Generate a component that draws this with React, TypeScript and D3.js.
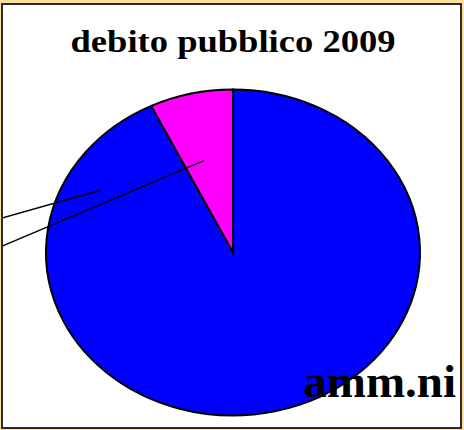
import { useEffect, useRef } from 'react';
import * as d3 from 'd3';

const categories = ["altro", "debito pubblico"];
const values = [92.8, 7.2];
const colors = ["#0000FF", "#FF00FF"];
// where each leader line leaves its slice (degrees clockwise from top, fraction of radius)
const leaderAngles = [298, 344.6];
const leaderRadii = [0.81, 0.585];
// where the (clipped) labels sit, left of the frame
const labelX = [-40, -40];
const labelY = [230, 264];

const title = "debito pubblico 2009";
const watermark = "amm.ni";

export default function App() {
  const svgRef = useRef<SVGSVGElement>(null);

  useEffect(() => {
    if (!svgRef.current) return;
    const width = 464;
    const height = 430;
    const svg = d3.select(svgRef.current);
    svg.selectAll("*").remove();

    svg.append("rect").attr("width", width).attr("height", height).attr("fill", "#FFDF9F");
    svg.append("rect")
      .attr("x", 2).attr("y", 4)
      .attr("width", 459).attr("height", 424)
      .attr("fill", "#fff")
      .attr("stroke", "#2b2b2b")
      .attr("stroke-width", 2);

    const cx = 233, cy = 252.5, rx = 187, ry = 163;

    svg.append("clipPath").attr("id", "frame")
      .append("rect").attr("x", 3).attr("y", 5).attr("width", 457).attr("height", 422);

    const root = svg.append("g").attr("clip-path", "url(#frame)");

    svg.append("text")
      .attr("x", 233).attr("y", 52)
      .attr("text-anchor", "middle")
      .attr("font-family", "'Liberation Serif', serif")
      .attr("font-weight", "bold")
      .attr("font-size", 31)
      .attr("textLength", 325)
      .attr("lengthAdjust", "spacingAndGlyphs")
      .text(title);

    const pie = d3.pie<number>().sort(null).value(d => d);
    const arcs = pie(values);
    const arc = d3.arc<d3.PieArcDatum<number>>().innerRadius(0).outerRadius(rx);

    const g = root.append("g")
      .attr("transform", `translate(${cx},${cy}) scale(1,${ry / rx})`);

    g.selectAll("path")
      .data(arcs)
      .enter()
      .append("path")
      .attr("d", arc)
      .attr("fill", (d, i) => colors[i])
      .attr("stroke", "#000")
      .attr("stroke-width", 2)
      .attr("stroke-linejoin", "miter")
      .attr("vector-effect", "non-scaling-stroke");

    // leader lines
    categories.forEach((c, i) => {
      const a = (leaderAngles[i] * Math.PI) / 180;
      const x1 = cx + Math.sin(a) * rx * leaderRadii[i];
      const y1 = cy - Math.cos(a) * ry * leaderRadii[i];
      root.append("line")
        .attr("x1", x1).attr("y1", y1)
        .attr("x2", labelX[i]).attr("y2", labelY[i])
        .attr("stroke", "#000")
        .attr("stroke-width", 1.5);
    });

    root.append("text")
      .attr("x", 456).attr("y", 397)
      .attr("text-anchor", "end")
      .attr("font-family", "'Liberation Serif', serif")
      .attr("font-weight", "bold")
      .attr("font-size", 47)
      .attr("fill", "#000")
      .text(watermark);
  }, []);

  return (
    <svg ref={svgRef} width={464} height={430}
      style={{ position: "absolute", left: 0, top: 0, display: "block" }} />
  );
}
